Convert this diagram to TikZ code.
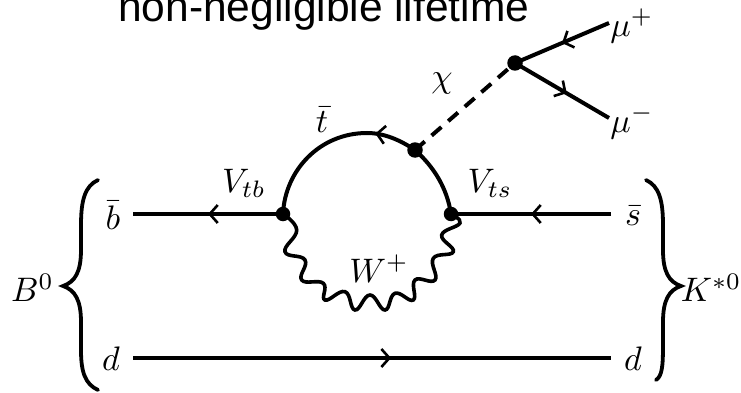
\documentclass[tikz,border=0pt]{standalone}
\usepackage{fontspec}
\newfontfamily\titlefont{Liberation Sans}
\usetikzlibrary{decorations.markings,arrows.meta}
\tikzset{
  x=1pt,y=-1pt,
  lbl/.style={inner sep=0pt,scale=3.4},
  vtx/.style={circle,fill=black,inner sep=0pt,minimum size=15.5pt},
  line/.style={line width=4pt},
  fermion/.style={line,postaction={decorate},decoration={markings,mark=at position #1 with {\arrow[line width=2.6pt]{Straight Barb[length=8pt,width=18pt]}}}},
  wave/.style={line width=3.6pt},
  brace/.style={line width=3.8pt,line cap=round}
}
\begin{document}
\begin{tikzpicture}
\useasboundingbox (0,0) rectangle (741,393);
% title
\node[inner sep=0pt,anchor=base west,font=\titlefont\fontsize{42.5}{48}\selectfont] (title) at (118,22) {non-negligible lifetime};
% vertices
\node[vtx,minimum size=14.5pt] (L) at (283,214) {};
\node[vtx,minimum size=14.5pt] (R) at (451,214) {};
\node[vtx] (T) at (415,150) {};
\node[vtx] (M) at (515,63) {};
\coordinate (CL) at (133,214);
\coordinate (CR) at (611,214);
\coordinate (DL) at (133,358);
\coordinate (DR) at (611,358);
\coordinate (MP) at (609,23);
\coordinate (MM) at (609,118);
% lines
\draw[fermion=0.5] (L.center) -- (CL);
\draw[fermion=0.5] (CR) -- (R.center);
\draw[fermion=0.54] (DL) -- (DR);
\draw[fermion=0.5] (MP) -- (M.center);
\draw[fermion=0.55] (M.center) -- (MM);
\draw[line,dash pattern=on 13pt off 9pt] (T.center) -- (M.center);
% top quark loop
\draw[line] (R.center) .. controls (447,188) and (434,167) .. (T.center);
\draw[fermion=0.24] (T.center) .. controls (400,140) and (384,133) .. (367,133)
   .. controls (320,133) and (285,170) .. (L.center);
% W loop
\draw[wave] plot[smooth,tension=0.75] coordinates {(L.center) (296.7,230) (285,251.7) (305,260) (301.7,280) (323.3,283.3) (325,300) (345,291.7) (355,310) (370,295) (385,310) (395,293.3) (413.3,300) (415,280) (435,280) (433.3,258.3) (453.3,251.7) (441.7,235) (460,223) (R.center)};
% braces
\draw[brace] (98,180) .. controls (85,186) and (81,200) .. (81,225) -- (81,250)
   .. controls (81,272) and (75,282) .. (63,286)
   .. controls (75,290) and (81,300) .. (81,322) -- (81,350)
   .. controls (81,372) and (85,384) .. (98,390);
\draw[brace] (646,180) .. controls (659,186) and (663,200) .. (663,225) -- (663,250)
   .. controls (663,272) and (669,282) .. (681,286)
   .. controls (669,290) and (663,300) .. (663,322) -- (663,345)
   .. controls (663,367) and (662,376) .. (656,380);
% labels
\node[lbl] (lb) at (113,215) {$\bar b$};
\node[lbl] (ld) at (111,359) {$d$};
\node[lbl] (rs) at (633,216) {$\bar s$};
\node[lbl] (rd) at (633,359) {$d$};
\node[lbl] (b0) at (32.5,288) {$B^0$};
\node[lbl] (ks) at (711,288) {$K^{*0}$};
\node[lbl] (vtb) at (244,183) {$V_{tb}$};
\node[lbl] (vts) at (490,183) {$V_{ts}$};
\node[lbl] (tb) at (322,120) {$\bar t$};
\node[lbl] (chi) at (442,83) {$\chi$};
\node[lbl] (mup) at (632,26) {$\mu^+$};
\node[lbl] (mum) at (632,122) {$\mu^-$};
\node[lbl] (wp) at (379,268.5) {$W^+$};
\end{tikzpicture}
\end{document}
